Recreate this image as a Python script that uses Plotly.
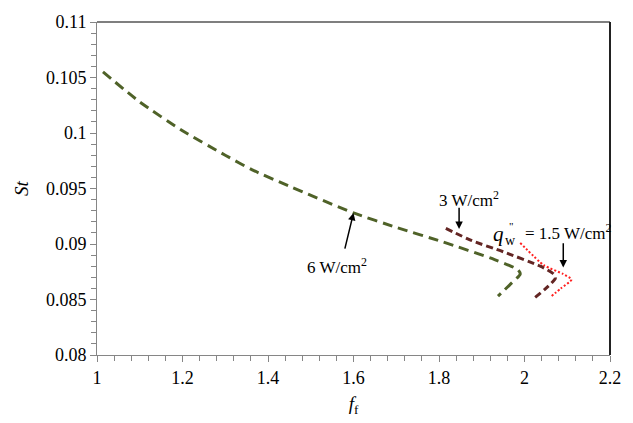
import plotly.graph_objects as go

# 6 W/cm^2 curve
ff_6 = [1.014, 1.1, 1.2, 1.3, 1.362, 1.45, 1.6, 1.7, 1.808, 1.93, 1.984, 1.99, 1.965, 1.938]
St_6 = [0.1055, 0.1028, 0.1002, 0.0980, 0.0967, 0.0952, 0.0928, 0.0915, 0.0902, 0.0886, 0.0877, 0.0873, 0.0863, 0.0853]

# 3 W/cm^2 curve
ff_3 = [1.816, 1.877, 1.95, 2.037, 2.068, 2.072, 2.05, 2.022]
St_3 = [0.0914, 0.0903, 0.0893, 0.0880, 0.0873, 0.0869, 0.0860, 0.0851]

# 1.5 W/cm^2 curve
ff_15 = [1.99, 2.045, 2.09, 2.11, 2.085, 2.06]
St_15 = [0.0901, 0.0881, 0.0873, 0.0868, 0.0860, 0.0852]

x_tickvals = [1, 1.2, 1.4, 1.6, 1.8, 2, 2.2]
x_ticktext = ["1", "1.2", "1.4", "1.6", "1.8", "2", "2.2"]
y_tickvals = [0.08, 0.085, 0.09, 0.095, 0.1, 0.105, 0.11]
y_ticktext = ["0.08", "0.085", "0.09", "0.095", "0.1", "0.105", "0.11"]

FONT = "Liberation Serif, Times New Roman, serif"

fig = go.Figure()
fig.add_trace(go.Scatter(x=ff_6, y=St_6, mode="lines", hoverinfo="skip",
                         line=dict(color="#4f6228", width=3, dash="10px,6px", shape="spline", smoothing=0.6), showlegend=False))
fig.add_trace(go.Scatter(x=ff_3, y=St_3, mode="lines", hoverinfo="skip",
                         line=dict(color="#632523", width=3, dash="7px,4px", shape="spline", smoothing=0.6), showlegend=False))
fig.add_trace(go.Scatter(x=ff_15, y=St_15, mode="lines", hoverinfo="skip",
                         line=dict(color="#ff2020", width=2, dash="2px,2px", shape="spline", smoothing=0.6), showlegend=False))

axis_common = dict(
    showgrid=False, zeroline=False, showline=True, linecolor="#868686", linewidth=1,
    ticks="outside", ticklen=6, tickcolor="#868686", tickwidth=1,
    tickfont=dict(family=FONT, size=18, color="#000000"),
)

fig.update_xaxes(range=[1, 2.2], tickvals=x_tickvals, ticktext=x_ticktext,
                 minor=dict(dtick=0.04, tick0=1, ticks="outside", ticklen=5, tickcolor="#868686"),
                 title=dict(text="<i>f</i><sub>f</sub>", font=dict(family=FONT, size=19, color="#000"), standoff=10),
                 **axis_common)
fig.update_yaxes(range=[0.08, 0.11], tickvals=y_tickvals, ticktext=y_ticktext,
                 minor=dict(dtick=0.001, tick0=0.08, ticks="outside", ticklen=5, tickcolor="#868686"),
                 title=dict(text="<i>St</i>", font=dict(family=FONT, size=19, color="#000"), standoff=12),
                 **axis_common)

# plot area border (top & right)
fig.add_shape(type="line", xref="paper", yref="paper", x0=0, x1=1, y0=1, y1=1, line=dict(color="#555555", width=1.5))
fig.add_shape(type="line", xref="paper", yref="paper", x0=1, x1=1, y0=0, y1=1, line=dict(color="#222222", width=2))

ann_font = dict(family=FONT, size=17, color="#000000")
arrow_kw = dict(axref="x", ayref="y", xref="x", yref="y", text="", showarrow=True,
                arrowhead=2, arrowsize=1, arrowwidth=1.5, arrowcolor="#000")
# arrows
fig.add_annotation(x=1.847, y=0.09136, ax=1.847, ay=0.0934, **arrow_kw)
fig.add_annotation(x=2.0907, y=0.08789, ax=2.0907, ay=0.0902, **arrow_kw)
fig.add_annotation(x=1.600, y=0.0928, ax=1.579, ay=0.08945, **arrow_kw)
# labels
fig.add_annotation(x=1.870, y=0.09405, xref="x", yref="y", text="3 W/cm<sup>2</sup>", showarrow=False, font=ann_font)
fig.add_annotation(x=1.561, y=0.08806, xref="x", yref="y", text="6 W/cm<sup>2</sup>", showarrow=False, font=ann_font)
# q''_w = 1.5 W/cm^2 built from pieces
fig.add_annotation(x=1.940, y=0.0909, xref="x", yref="y", text="<i>q</i>", showarrow=False,
                   font=dict(family=FONT, size=21, color="#000"))
fig.add_annotation(x=1.968, y=0.0903, xref="x", yref="y", text="w", showarrow=False,
                   font=dict(family=FONT, size=14, color="#000"))
fig.add_annotation(x=1.970, y=0.0916, xref="x", yref="y", text="\"", showarrow=False,
                   font=dict(family=FONT, size=11, color="#000"))
fig.add_annotation(x=1.9954, y=0.0911, xref="x", yref="y", xanchor="left", text="= 1.5 W/cm<sup>2</sup>",
                   showarrow=False, font=ann_font)

fig.update_layout(
    width=633, height=423, autosize=False,
    margin=dict(l=97, r=12, t=15, b=62),
    paper_bgcolor="white", plot_bgcolor="white",
    font=dict(family=FONT, color="#000"),
    hovermode=False,
)

fig.write_html("out.html", config={"displayModeBar": False, "staticPlot": True},
               post_script="document.body.style.margin='0';document.body.style.overflow='hidden';")
